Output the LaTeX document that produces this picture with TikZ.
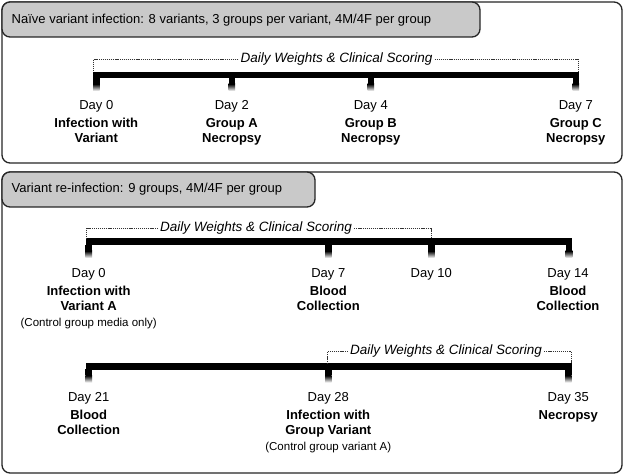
\documentclass[tikz,border=0pt]{standalone}
\usepackage{fontspec}
\setmainfont{Liberation Sans}
\usetikzlibrary{calc}
\begin{document}
\begin{tikzpicture}[x=1pt,y=-1pt,
  panel/.style={draw=black!85, line width=1.3pt, rounded corners=8pt, fill=white},
  header/.style={draw=black!85, line width=1.3pt, rounded corners=8pt, fill=gray!42},
  titletext/.style={anchor=west, inner sep=0pt, font=\fontsize{13}{15}\selectfont},
  dwlbl/.style={inner sep=2pt, font=\fontsize{13.5}{16}\selectfont\itshape},
  dashline/.style={draw=black!80, line width=0.6pt, dash pattern=on 1.2pt off 0.9pt},
  lbl/.style={align=center, anchor=north, inner sep=0pt, font=\fontsize{13}{15.5}\selectfont},
]
\newcommand\smallpar[1]{{\fontsize{11.5}{15.5}\selectfont #1}}
\newcommand\tlmark[1]{%
  \fill ($(#1)+(-3.3,0)$) rectangle ($(#1)+(3.3,6)$);
  \shade[top color=black, bottom color=white] ($(#1)+(-3.3,6)$) rectangle ($(#1)+(3.3,13)$);}
\useasboundingbox (0,0) rectangle (625,476);

% ---------- Panel 1 ----------
\draw[panel] (2,2) rectangle (622,163);
\draw[header] (2,2) rectangle (480,37);
\node[titletext] (t1) at (11.5,20) {Naïve variant infection: 8 variants, 3 groups per variant, 4M/4F per group};

\coordinate (p1s) at (93,71.7);
\coordinate (p1e) at (579,78.5);
\fill (p1s) rectangle (p1e);
\foreach \n/\x in {a0/96.3, a2/231.8, a4/370.8, a7/575.8}{
  \coordinate (\n) at (\x,78);
  \tlmark{\n}
}
\node[dwlbl] (w1) at (336.5,59.5) {Daily Weights \& Clinical Scoring};
\draw[dashline] (w1.west) -| (93.5,71.7);
\draw[dashline] (w1.east) -| (578.5,71.7);

\node[lbl] (l0) at (96.3,100) {Day 0\\[2.5pt]\textbf{Infection with}\\\textbf{Variant}};
\node[lbl] (l2) at (231.8,100) {Day 2\\[2.5pt]\textbf{Group A}\\\textbf{Necropsy}};
\node[lbl] (l4) at (370.8,100) {Day 4\\[2.5pt]\textbf{Group B}\\\textbf{Necropsy}};
\node[lbl] (l7) at (575.8,100) {Day 7\\[2.5pt]\textbf{Group C}\\\textbf{Necropsy}};

% ---------- Panel 2 ----------
\draw[panel] (2,172) rectangle (622,473);
\draw[header] (2,172) rectangle (315,207);
\node[titletext] (t2) at (11.5,189) {Variant re-infection: 9 groups, 4M/4F per group};

% timeline 2a
\coordinate (p2s) at (85.5,238.5);
\coordinate (p2e) at (572.3,245.5);
\fill (p2s) rectangle (p2e);
\foreach \n/\x in {b0/88.7, b7/328.3, b10/431.3, b14/569}{
  \coordinate (\n) at (\x,245);
  \tlmark{\n}
}
\node[dwlbl] (w2) at (256,228) {Daily Weights \& Clinical Scoring};
\draw[dashline] (w2.west) -| (86,238.5);
\draw[dashline] (w2.east) -| (431.5,238.5);

\node[lbl] (m0) at (88.7,268) {Day 0\\[2.5pt]\textbf{Infection with}\\\textbf{Variant A}\\\smallpar{(Control group media only)}};
\node[lbl] (m7) at (328.3,268) {Day 7\\[2.5pt]\textbf{Blood}\\\textbf{Collection}};
\node[lbl] (m10) at (431.3,268) {Day 10};
\node[lbl] (m14) at (568,268) {Day 14\\[2.5pt]\textbf{Blood}\\\textbf{Collection}};

% timeline 2b
\coordinate (p3s) at (85.5,363);
\coordinate (p3e) at (571.7,370);
\fill (p3s) rectangle (p3e);
\foreach \n/\x in {c21/88.7, c28/328.3, c35/568.3}{
  \coordinate (\n) at (\x,369.5);
  \tlmark{\n}
}
\node[dwlbl] (w3) at (446,351.5) {Daily Weights \& Clinical Scoring};
\draw[dashline] (w3.west) -| (327.5,363);
\draw[dashline] (w3.east) -| (571,363);

\node[lbl] (n21) at (88.7,392) {Day 21\\[2.5pt]\textbf{Blood}\\\textbf{Collection}};
\node[lbl] (n28) at (328.3,392) {Day 28\\[2.5pt]\textbf{Infection with}\\\textbf{Group Variant}\\\smallpar{(Control group variant A)}};
\node[lbl] (n35) at (568.3,392) {Day 35\\[2.5pt]\textbf{Necropsy}};
\end{tikzpicture}
\end{document}
